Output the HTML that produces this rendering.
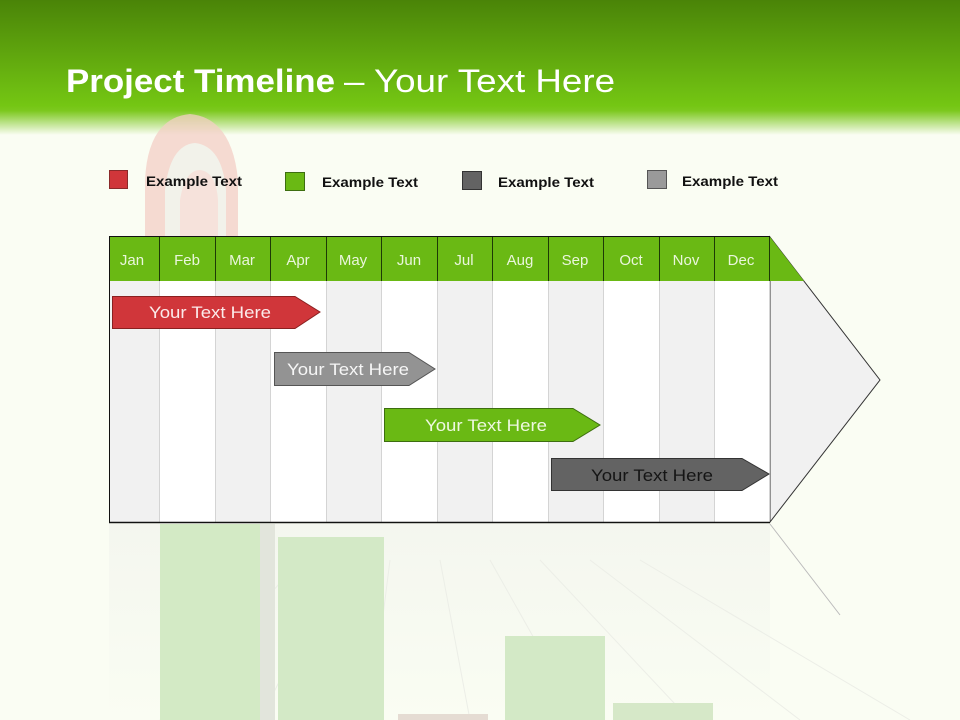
<!DOCTYPE html>
<html><head><meta charset="utf-8"><style>
html,body{margin:0;padding:0;background:#fafdf3;}
svg{display:block;}
</style></head><body>
<svg width="960" height="720" viewBox="0 0 960 720" xmlns="http://www.w3.org/2000/svg" font-family="'Liberation Sans', sans-serif">
<defs>
<linearGradient id="hdr" x1="0" y1="0" x2="0" y2="1">
<stop offset="0" stop-color="#4a8408"/>
<stop offset="0.78" stop-color="#74c613"/>
<stop offset="0.82" stop-color="#7cc81e"/>
<stop offset="1" stop-color="#fafdf3"/>
</linearGradient>
<linearGradient id="fade" x1="0" y1="0" x2="0" y2="1">
<stop offset="0" stop-color="#f0f2ec"/>
<stop offset="1" stop-color="#fafdf3"/>
</linearGradient>
</defs>
<rect width="960" height="720" fill="#fafdf3"/>
<rect width="960" height="135" fill="url(#hdr)"/>
<!-- faint target -->
<g opacity="0.75">
<path d="M145 237 L145 180 Q148 118 190 114 Q232 118 238 180 L238 237 Z" fill="#f4cfc6"/>
<path d="M165 237 L165 190 Q170 145 195 143 Q222 146 226 190 L226 237 Z" fill="#f0efe8"/>
<path d="M180 237 L180 200 Q185 170 200 170 Q216 172 218 200 L218 237 Z" fill="#f5dad3"/>
</g>
<!-- reflection area -->
<rect x="109" y="524" width="661" height="196" fill="url(#fade)" opacity="0.6"/>
<g stroke="#eceee7" stroke-width="1">
<path d="M300 560 L160 720 M340 560 L260 720 M390 560 L370 720 M440 560 L470 720 M490 560 L580 720 M540 560 L690 720 M590 560 L800 720 M640 560 L910 720"/>
</g>
<rect x="160" y="524" width="100" height="196" fill="#d3eac5"/>
<rect x="260" y="524" width="15" height="196" fill="#e2e5dc"/>
<rect x="278" y="537" width="106" height="183" fill="#d3e9c6"/>
<rect x="505" y="636" width="100" height="84" fill="#d3e9c6"/>
<rect x="613" y="703" width="100" height="17" fill="#d6e8c8"/>
<rect x="398" y="714" width="90" height="6" fill="#e5dcd3"/>
<path d="M770 524 L840 615" stroke="#bbb" stroke-width="1"/>
<!-- title -->
<text x="66" y="92" font-size="32" fill="#fff"><tspan font-weight="bold" textLength="269" lengthAdjust="spacingAndGlyphs">Project Timeline</tspan><tspan x="344" textLength="271" lengthAdjust="spacingAndGlyphs">– Your Text Here</tspan></text>
<!-- legend -->
<rect x="109.5" y="170.5" width="18" height="18" fill="#d0363a" stroke="#8a2a2a"/>
<text x="146" y="186" font-size="14" font-weight="bold" fill="#111" textLength="96" lengthAdjust="spacingAndGlyphs">Example Text</text>
<rect x="285.5" y="172.5" width="19" height="18" fill="#6ab914" stroke="#3d6e10"/>
<text x="322" y="187" font-size="14" font-weight="bold" fill="#111" textLength="96" lengthAdjust="spacingAndGlyphs">Example Text</text>
<rect x="462.5" y="171.5" width="19" height="18" fill="#636363" stroke="#333"/>
<text x="498" y="187" font-size="14" font-weight="bold" fill="#111" textLength="96" lengthAdjust="spacingAndGlyphs">Example Text</text>
<rect x="647.5" y="170.5" width="19" height="18" fill="#9a9a9a" stroke="#555"/>
<text x="682" y="186" font-size="14" font-weight="bold" fill="#111" textLength="96" lengthAdjust="spacingAndGlyphs">Example Text</text>
<!-- arrow head region -->
<path d="M770 237 L880 380 L770 522 Z" fill="#f1f1f1" stroke="#333" stroke-width="1"/>
<path d="M770 237 L804 281 L770 281 Z" fill="#6ab914"/>
<!-- columns -->
<g>
<rect x="109" y="281" width="50" height="241" fill="#f1f1f1"/>
<rect x="159" y="281" width="56" height="241" fill="#fff"/>
<rect x="215" y="281" width="55" height="241" fill="#f1f1f1"/>
<rect x="270" y="281" width="56" height="241" fill="#fff"/>
<rect x="326" y="281" width="55" height="241" fill="#f1f1f1"/>
<rect x="381" y="281" width="56" height="241" fill="#fff"/>
<rect x="437" y="281" width="55" height="241" fill="#f1f1f1"/>
<rect x="492" y="281" width="56" height="241" fill="#fff"/>
<rect x="548" y="281" width="55" height="241" fill="#f1f1f1"/>
<rect x="603" y="281" width="56" height="241" fill="#fff"/>
<rect x="659" y="281" width="55" height="241" fill="#f1f1f1"/>
<rect x="714" y="281" width="56" height="241" fill="#fff"/>
</g>
<g stroke="#d4d4d4" stroke-width="1">
<path d="M159.5 281V522M215.5 281V522M270.5 281V522M326.5 281V522M381.5 281V522M437.5 281V522M492.5 281V522M548.5 281V522M603.5 281V522M659.5 281V522M714.5 281V522M769.5 281V522"/>
</g>
<rect x="109" y="237" width="661" height="44" fill="#6ab914"/>
<g stroke="#1d3a06" stroke-width="1">
<path d="M159.5 237V281M215.5 237V281M270.5 237V281M326.5 237V281M381.5 237V281M437.5 237V281M492.5 237V281M548.5 237V281M603.5 237V281M659.5 237V281M714.5 237V281M769.5 237V281"/>
</g>
<path d="M109.5 522.5 V236.5 H770" fill="none" stroke="#111" stroke-width="1"/>
<path d="M109 522.5 H770" stroke="#111" stroke-width="1.5"/>
<g font-size="15" fill="#eaf6dc" text-anchor="middle">
<text x="132" y="265">Jan</text><text x="187" y="265">Feb</text><text x="242" y="265">Mar</text>
<text x="298" y="265">Apr</text><text x="353" y="265">May</text><text x="409" y="265">Jun</text>
<text x="464" y="265">Jul</text><text x="520" y="265">Aug</text><text x="575" y="265">Sep</text>
<text x="631" y="265">Oct</text><text x="686" y="265">Nov</text><text x="741" y="265">Dec</text>
</g>
<!-- bars -->
<path d="M112.5 296.5 H295 L320 312 L295 328.5 H112.5 Z" fill="#d0363a" stroke="#8a2020"/>
<text x="210" y="318" font-size="17" fill="#fbeaea" text-anchor="middle" textLength="122" lengthAdjust="spacingAndGlyphs">Your  Text Here</text>
<path d="M274.5 352.5 H409 L435 369 L409 385.5 H274.5 Z" fill="#939393" stroke="#555"/>
<text x="348" y="375" font-size="17" fill="#f6f6f6" text-anchor="middle" textLength="122" lengthAdjust="spacingAndGlyphs">Your  Text Here</text>
<path d="M384.5 408.5 H573 L600 425 L573 441.5 H384.5 Z" fill="#6ab914" stroke="#3d6e10"/>
<text x="486" y="431" font-size="17" fill="#eef8e0" text-anchor="middle" textLength="122" lengthAdjust="spacingAndGlyphs">Your  Text Here</text>
<path d="M551.5 458.5 H742 L769 474 L742 490.5 H551.5 Z" fill="#636363" stroke="#333"/>
<text x="652" y="481" font-size="17" fill="#151515" text-anchor="middle" textLength="122" lengthAdjust="spacingAndGlyphs">Your  Text Here</text>
</svg>
</body></html>
